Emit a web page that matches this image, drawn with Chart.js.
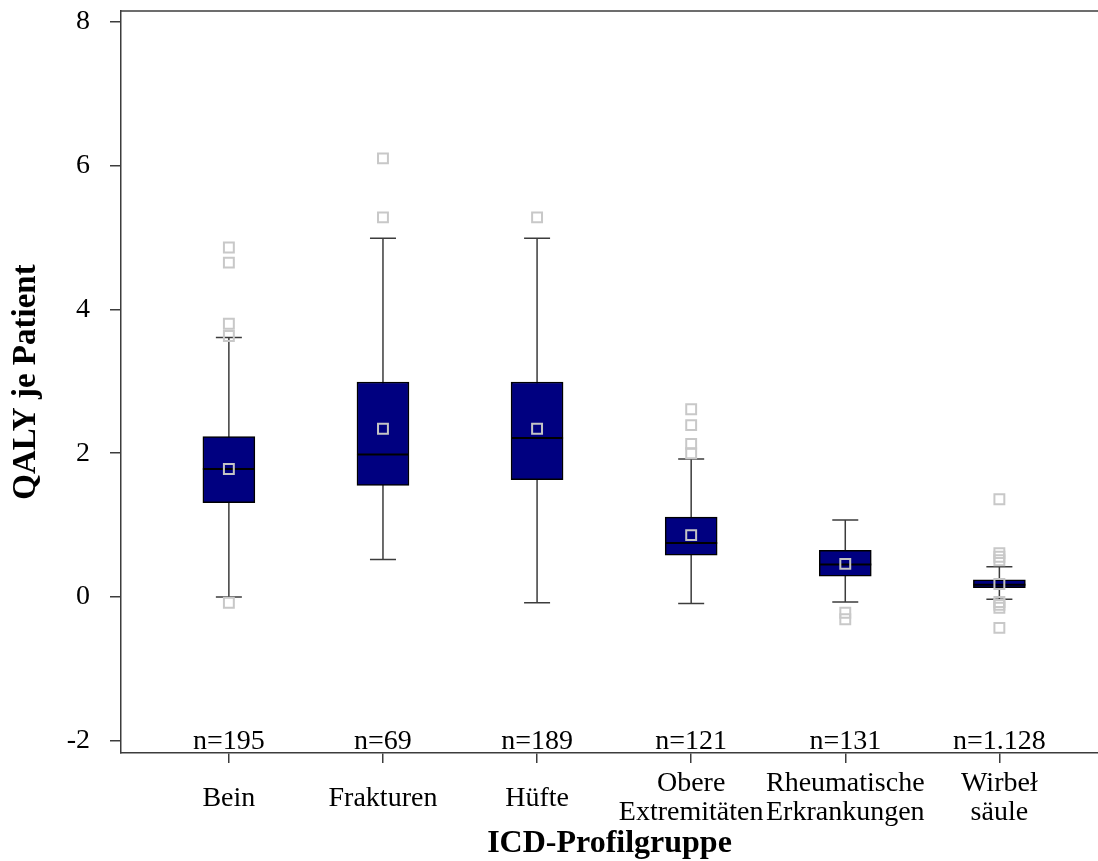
<!DOCTYPE html>
<html>
<head>
<meta charset="utf-8">
<script src="https://cdn.jsdelivr.net/npm/chart.js@4"></script>
<style>
  body { margin: 0; background: #fff; }
  canvas { display: block; }
</style>
</head>
<body>
<canvas id="qalyChart" width="1098" height="861"></canvas>
<script>
var categories = [["Bein"], ["Frakturen"], ["Hüfte"], ["Obere", "Extremitäten"], ["Rheumatische", "Erkrankungen"], ["Wirbeł", "säule"]];
var nLabels = ["n=195", "n=69", "n=189", "n=121", "n=131", "n=1.128"];
var q1 = [1.31, 1.55, 1.63, 0.58, 0.29, 0.13];
var q3 = [2.23, 2.99, 2.99, 1.11, 0.65, 0.24];
var medians = [1.78, 1.98, 2.21, 0.75, 0.45, 0.17];
var means = [1.78, 2.34, 2.34, 0.86, 0.46, 0.18];
var whiskerLow = [0.0, 0.52, -0.08, -0.09, -0.07, -0.03];
var whiskerHigh = [3.61, 4.99, 4.99, 1.92, 1.07, 0.42];
var outliers = [
  [4.86, 4.65, 3.8, 3.63, -0.08],
  [6.1, 5.28],
  [5.28],
  [2.61, 2.39, 2.13, 2.0],
  [-0.22, -0.31],
  [1.36, 0.61, 0.56, 0.51, -0.07, -0.11, -0.15, -0.43]
];
var yTicks = [-2, 0, 2, 4, 6, 8];

var serif = '"Liberation Serif", "DejaVu Serif", serif';
var axisColor = "#3c3c3c";

// whiskers under the boxes, medians over them, n= labels and the top frame line
var boxPlugin = {
  id: "boxParts",
  beforeDatasetsDraw: function (chart) {
    var xs = chart.scales.x, ys = chart.scales.y, ctx = chart.ctx;
    ctx.save();
    ctx.strokeStyle = axisColor;
    ctx.lineWidth = 1.5;
    for (var i = 0; i < categories.length; i++) {
      var x = xs.getPixelForValue(i);
      var lo = ys.getPixelForValue(whiskerLow[i]);
      var hi = ys.getPixelForValue(whiskerHigh[i]);
      ctx.beginPath();
      ctx.moveTo(x, hi); ctx.lineTo(x, lo);
      ctx.moveTo(x - 13, hi); ctx.lineTo(x + 13, hi);
      ctx.moveTo(x - 13, lo); ctx.lineTo(x + 13, lo);
      ctx.stroke();
    }
    ctx.restore();
  },
  afterDatasetDraw: function (chart, args) {
    if (args.index !== 0) return;
    var xs = chart.scales.x, ys = chart.scales.y, ctx = chart.ctx;
    ctx.save();
    ctx.strokeStyle = "#000";
    ctx.lineWidth = 2;
    for (var i = 0; i < categories.length; i++) {
      var x = xs.getPixelForValue(i);
      var m = ys.getPixelForValue(medians[i]);
      ctx.beginPath();
      ctx.moveTo(x - 26, m); ctx.lineTo(x + 26, m);
      ctx.stroke();
    }
    ctx.restore();
  },
  afterDraw: function (chart) {
    var xs = chart.scales.x, ys = chart.scales.y, ctx = chart.ctx;
    var area = chart.chartArea;
    ctx.save();
    ctx.strokeStyle = axisColor;
    ctx.lineWidth = 1.5;
    ctx.beginPath();
    ctx.moveTo(area.left, area.top);
    ctx.lineTo(area.right, area.top);
    ctx.stroke();
    ctx.fillStyle = "#000";
    ctx.font = "28px " + serif;
    ctx.textAlign = "center";
    ctx.textBaseline = "alphabetic";
    var base = ys.getPixelForValue(ys.min) - 4;
    for (var i = 0; i < nLabels.length; i++) {
      ctx.fillText(nLabels[i], xs.getPixelForValue(i), base);
    }
    ctx.restore();
  }
};

var outlierPoints = [];
outliers.forEach(function (list, i) {
  list.forEach(function (v) { outlierPoints.push({ x: i, y: v }); });
});

new Chart(document.getElementById("qalyChart"), {
  type: "bar",
  data: {
    datasets: [
      {
        label: "Box",
        data: categories.map(function (c, i) { return { x: i, y: [q1[i], q3[i]] }; }),
        backgroundColor: "#000080",
        borderColor: "#000",
        borderWidth: 1.5,
        borderSkipped: false,
        barThickness: 52,
        order: 3
      },
      {
        type: "scatter",
        label: "Ausreißer",
        data: outlierPoints,
        pointStyle: "rect",
        radius: 7,
        backgroundColor: "rgba(0,0,0,0)",
        borderColor: "#c8c8c8",
        borderWidth: 2,
        order: 2
      },
      {
        type: "scatter",
        label: "Mittelwert",
        data: means.map(function (v, i) { return { x: i, y: v }; }),
        pointStyle: "rect",
        radius: 7,
        backgroundColor: "rgba(0,0,0,0)",
        borderColor: "#c4c4c4",
        borderWidth: 2,
        order: 1
      }
    ]
  },
  options: {
    responsive: false,
    animation: false,
    layout: { autoPadding: false, padding: { left: 0, right: 0, top: 11, bottom: 0 } },
    plugins: { legend: { display: false }, tooltip: { enabled: false } },
    scales: {
      x: {
        type: "linear",
        offset: false,
        min: -0.70,
        max: 5.64,
        afterBuildTicks: function (s) {
          s.ticks = categories.map(function (c, i) { return { value: i }; });
        },
        afterFit: function (s) {
          s.height = 108;
          s.paddingLeft = 0;
          s.paddingRight = 0;
        },
        ticks: {
          callback: function (v) { return categories[v]; },
          font: { family: serif, size: 28, lineHeight: 1.04 },
          color: "#000",
          padding: 21,
          crossAlign: "center",
          maxRotation: 0,
          autoSkip: false
        },
        grid: { offset: false, drawOnChartArea: false, tickLength: 10, color: axisColor, lineWidth: 1.5 },
        border: { color: axisColor, width: 1.5 },
        title: {
          display: true,
          text: "ICD-Profilgruppe",
          color: "#000",
          font: { family: serif, size: 32, weight: "bold", lineHeight: 1 },
          padding: { top: 0, bottom: 1 }
        }
      },
      y: {
        min: -2.17,
        max: 8.15,
        afterBuildTicks: function (s) {
          s.ticks = yTicks.map(function (v) { return { value: v }; });
        },
        afterFit: function (s) {
          s.width = 121;
          s.paddingTop = 0;
          s.paddingBottom = 0;
        },
        ticks: {
          callback: function (v) { return String(v); },
          font: { family: serif, size: 28 },
          color: "#000",
          padding: 20
        },
        grid: { drawOnChartArea: false, tickLength: 11, color: axisColor, lineWidth: 1.5 },
        border: { color: axisColor, width: 1.5 },
        title: {
          display: true,
          text: "QALY je Patient",
          color: "#000",
          font: { family: serif, size: 33, weight: "bold", lineHeight: 1 },
          padding: { top: 10, bottom: 0 }
        }
      }
    }
  },
  plugins: [boxPlugin]
});
</script>
</body>
</html>
